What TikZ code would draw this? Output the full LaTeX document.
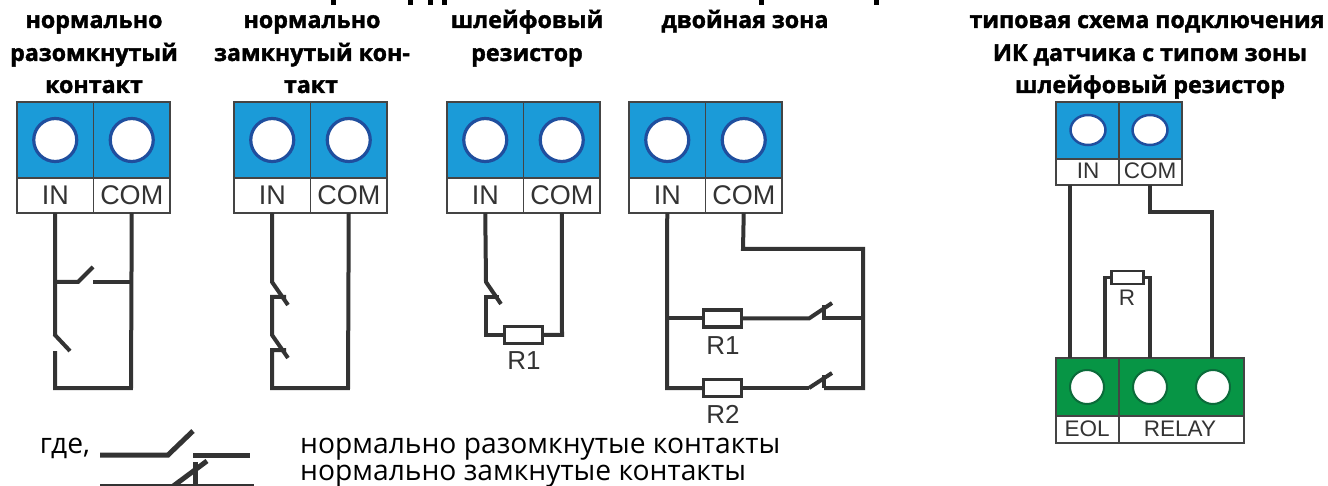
\documentclass[tikz,border=0pt]{standalone}
\usepackage{fontspec}
\setmainfont{Liberation Sans}
\newfontfamily\ofont{Open Sans}
\newfontfamily\tfont[BoldFeatures={FakeBold=1.6}]{Open Sans}
\definecolor{tblue}{HTML}{1B9BD8}
\definecolor{tring}{HTML}{1F4E9E}
\definecolor{tgreen}{HTML}{079545}
\definecolor{gring}{HTML}{0B6B3A}
\definecolor{ink}{HTML}{333333}
\definecolor{edge}{HTML}{444444}
\usetikzlibrary{shapes.geometric}
\tikzset{
 wire/.style={draw=ink,line width=4pt,line join=miter},
 thin wire/.style={draw=ink,line width=3.2pt,line join=miter},
 cellbox/.style={draw=edge,line width=1.5pt,inner sep=0pt,outer sep=0pt,rectangle},
 hole/.style={circle,draw=tring,fill=white,line width=3.2pt,inner sep=0pt,outer sep=0pt,minimum size=43pt},
 smallhole/.style={ellipse,draw=tring,fill=white,line width=2.5pt,inner sep=0pt,outer sep=0pt,minimum width=35pt,minimum height=30pt},
 greenhole/.style={circle,draw=gring,fill=white,line width=2pt,inner sep=0pt,outer sep=0pt,minimum size=34pt},
 res/.style={rectangle,draw=ink,fill=white,line width=3.6pt,inner sep=0pt,outer sep=0pt,minimum width=38pt,minimum height=17pt},
 smallres/.style={rectangle,draw=ink,fill=white,line width=2.8pt,inner sep=0pt,outer sep=0pt,minimum width=32pt,minimum height=13pt},
 biglab/.style={anchor=base,inner sep=0pt,text=ink,font=\fontsize{27}{27}\selectfont},
 reslab/.style={anchor=base,inner sep=0pt,text=ink,font=\fontsize{26}{26}\selectfont},
 smalllab/.style={anchor=base,inner sep=0pt,text=ink,font=\fontsize{22.5}{22.5}\selectfont},
 titl/.style={anchor=base,inner sep=0pt,text=black,font=\tfont\bfseries\fontsize{23.2}{23.2}\selectfont},
 bodyt/.style={anchor=base,inner sep=0pt,text=black,font=\ofont\fontsize{28.2}{28.2}\selectfont},
 clipped/.style={fill=black,draw=none},
}
\newcommand{\bigterm}[2]{%
 \node[cellbox,fill=tblue,minimum width=76.5pt,minimum height=76pt] (#1ainb) at (#2+38.25,140) {};
 \node[cellbox,fill=tblue,minimum width=76.5pt,minimum height=76pt] (#1acom) at (#2+114.75,140) {};
 \node[cellbox,fill=white,minimum width=76.5pt,minimum height=35pt] (#1in) at (#2+38.25,195.5) {};
 \node[cellbox,fill=white,minimum width=76.5pt,minimum height=35pt] (#1com) at (#2+114.75,195.5) {};
 \node[hole] (#1hin) at (#1ainb.center) {};
 \node[hole] (#1hcom) at (#1acom.center) {};
 \node[biglab] (#1lin) at (#2+38.25,205) {IN};
 \node[biglab] (#1lcom) at (#2+114.75,205) {COM};
}
\begin{document}
\begin{tikzpicture}[x=1pt,y=-1pt]
\useasboundingbox (0,0) rectangle (1328,486);
\clip (0,0) rectangle (1328,486);
\fill[white] (0,0) rectangle (1328,486);
% clipped remains of a heading line
\foreach \a in {330.5,408,428,442,759,874}{\fill[clipped] (\a,0) rectangle (\a+5,5);}
% titles
\node[titl] (a1) at (94,28) {нормально};
\node[titl] (a2) at (94,61) {разомкнутый};
\node[titl] (a3) at (94,93) {контакт};
\node[titl] (b1) at (312,28) {нормально};
\node[titl] (b2) at (312,61) {замкнутый кон-};
\node[titl] (b3) at (311,93) {такт};
\node[titl] (c1) at (527,28) {шлейфовый};
\node[titl] (c2) at (527,61) {резистор};
\node[titl] (d1) at (745,28) {двойная зона};
\node[titl] (e1) at (1147,28) {типовая схема подключения};
\node[titl] (e2) at (1150,61) {ИК датчика с типом зоны};
\node[titl] (e3) at (1150,93) {шлейфовый резистор};
% terminals
\bigterm{p}{17}
\bigterm{q}{234}
\bigterm{r}{447}
\bigterm{s}{629}
% first: normally open
\coordinate (p1) at (55,282);\coordinate (p2) at (78,282);\coordinate (p3) at (93,267);
\coordinate (p4) at (93,282);\coordinate (p5) at (131,282);
\coordinate (p6) at (55,335);\coordinate (p7) at (70,351);\coordinate (p8) at (55,351);
\coordinate (p9) at (55,388);\coordinate (p10) at (131,388);
\draw[wire] (pin.south) -- (p6) -- (p7);
\draw[wire] (p1) -- (p2) -- (p3);
\draw[wire] (p4) -- (p5);
\draw[wire] (pcom.south) -- (p10) -- (p9) -- (p8);
% second: normally closed
\coordinate (q1) at (272,282);\coordinate (q2) at (288,305);\coordinate (q3) at (272,297);\coordinate (q4) at (286,297);
\coordinate (q5) at (272,335);\coordinate (q6) at (288,358);\coordinate (q7) at (272,350);\coordinate (q8) at (286,350);
\coordinate (q9) at (272,388);\coordinate (q10) at (348,388);
\draw[wire] (qin.south) -- (q1) -- (q2);
\draw[wire] (q4) -- (q3) -- (q5) -- (q6);
\draw[wire] (q8) -- (q7) -- (q9) -- (q10) -- (qcom.south);
% third: loop resistor
\coordinate (r1) at (486,282);\coordinate (r2) at (501,304);\coordinate (r3) at (486,297);\coordinate (r4) at (499,297);
\coordinate (r5) at (486,335);\coordinate (r6) at (562,335);
\node[res] (rr) at (523.5,335) {};
\node[reslab] (rrl) at (524,370) {R1};
\draw[wire] (rin.south) -- (r1) -- (r2);
\draw[wire] (r4) -- (r3) -- (r5) -- (rr.west);
\draw[wire] (rr.east) -- (r6) -- (rcom.south);
% fourth: double zone
\coordinate (s1) at (743,249);\coordinate (s2) at (863,249);\coordinate (s3) at (863,388);\coordinate (s4) at (667,388);
\coordinate (s5) at (667,318.5);\coordinate (s6) at (809,318.5);\coordinate (s7) at (832,303);\coordinate (s8) at (824,305);
\coordinate (s9) at (824,318.5);\coordinate (s10) at (863,318.5);
\coordinate (s11) at (809,388);\coordinate (s12) at (832,373);\coordinate (s13) at (824,375);\coordinate (s14) at (824,388);
\node[res] (sr1) at (722.5,318.5) {};
\node[res] (sr2) at (722.5,388) {};
\node[reslab] (sl1) at (723,355) {R1};
\node[reslab] (sl2) at (723,423) {R2};
\draw[wire] (scom.south) -- (s1) -- (s2) -- (s3) -- (s14);
\draw[wire] (s13) -- (s14);
\draw[wire] (s11) -- (s12);
\draw[wire] (s11) -- (sr2.east);
\draw[wire] (sr2.west) -- (s4) -- (sin.south);
\draw[wire] (s5) -- (sr1.west);
\draw[wire] (sr1.east) -- (s6) -- (s7);
\draw[wire] (s8) -- (s9) -- (s10);
% right: small terminal
\node[cellbox,fill=tblue,minimum width=63pt,minimum height=57pt] (tain) at (1087.5,130.5) {};
\node[cellbox,fill=tblue,minimum width=63pt,minimum height=57pt] (tacom) at (1150.5,130.5) {};
\node[cellbox,fill=white,minimum width=63pt,minimum height=26pt] (tin) at (1087.5,172) {};
\node[cellbox,fill=white,minimum width=63pt,minimum height=26pt] (tcom) at (1150.5,172) {};
\node[smallhole] (thin) at (1088,130) {};
\node[smallhole] (thcom) at (1150,130) {};
\node[smalllab] (tlin) at (1088,179) {IN};
\node[smalllab] (tlcom) at (1150,179) {COM};
% green terminal
\node[cellbox,fill=tgreen,minimum width=63pt,minimum height=58pt] (gaeol) at (1087.5,387) {};
\node[cellbox,fill=tgreen,minimum width=125pt,minimum height=58pt] (garel) at (1181.5,387) {};
\node[cellbox,fill=white,minimum width=63pt,minimum height=27pt] (geol) at (1087.5,429.5) {};
\node[cellbox,fill=white,minimum width=125pt,minimum height=27pt] (grel) at (1181.5,429.5) {};
\node[greenhole] (gh1) at (1087,387) {};
\node[greenhole] (gh2) at (1150,387) {};
\node[greenhole] (gh3) at (1213,387) {};
\node[smalllab] (gl1) at (1087,436) {EOL};
\node[smalllab] (gl2) at (1180,436) {RELAY};
% right wires
\coordinate (u1) at (1070,358);\coordinate (u2) at (1150,212);\coordinate (u3) at (1212,212);\coordinate (u4) at (1212,358);
\coordinate (u5) at (1105,358);\coordinate (u6) at (1105,277.5);\coordinate (u7) at (1150,358);\coordinate (u8) at (1150,277.5);
\coordinate (u0) at (1070,185);\coordinate (u9) at (1150,185);
\draw[thin wire] (u0) -- (u1);
\draw[thin wire] (u9) -- (u2) -- (u3) -- (u4);
\node[smallres] (ur) at (1127.5,277.5) {};
\node[smalllab] (url) at (1127,306) {R};
\draw[thin wire] (u5) -- (u6) -- (ur.west);
\draw[thin wire] (u7) -- (u8) -- (ur.east);
% legend
\node[bodyt] (w) at (65,453) {где,};
\node[bodyt,anchor=base west] (l1) at (300,453) {нормально разомкнутые контакты};
\node[bodyt,anchor=base west] (l2) at (300,480) {нормально замкнутые контакты};
\coordinate (v1) at (100,455);\coordinate (v2) at (168,455);\coordinate (v3) at (193,431);\coordinate (v4) at (193,455);\coordinate (v5) at (250,455);
\draw[draw=ink,line width=5pt] (v1) -- (v2) -- (v3);
\draw[draw=ink,line width=5pt] (v4) -- (v5);
\coordinate (x1) at (100,485);\coordinate (x2) at (254,485);\coordinate (x3) at (172,487);\coordinate (x4) at (207,461);\coordinate (x5) at (195,462);\coordinate (x6) at (195,486);
\draw[draw=ink,line width=2pt] (x1) -- (x2);
\draw[draw=ink,line width=5pt] (x3) -- (x4);
\draw[draw=ink,line width=5pt] (x5) -- (x6);
\end{tikzpicture}
\end{document}
